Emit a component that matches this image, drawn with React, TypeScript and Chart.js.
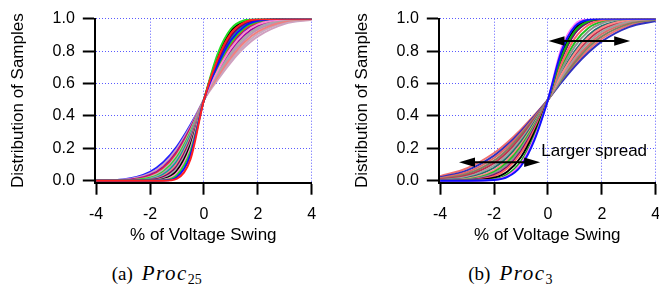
import React, { useEffect, useRef } from "react";
import { Chart, registerables } from "chart.js";

Chart.register(...registerables);

// ---------- data ----------
const xGrid = [-4, -3, -2, -1.5, -1, -0.5, 0, 0.5, 1, 1.5, 2, 3, 4];
const xTicks = [-4, -2, 0, 2, 4];
const yTicks = [0, 0.2, 0.4, 0.6, 0.8, 1.0];
const xTitle = "% of Voltage Swing";
const yTitle = "Distribution of Samples";

// (a) Proc25 : cumulative distributions, one row per sample curve
const proc25Series = [
  [0, 0, 0, 0, 0.013, 0.133, 0.5, 0.748, 0.909, 0.977, 0.996, 1, 1],
  [0, 0, 0, 0.001, 0.023, 0.159, 0.5, 0.711, 0.867, 0.952, 0.987, 1, 1],
  [0, 0, 0, 0.003, 0.035, 0.182, 0.5, 0.779, 0.938, 0.99, 0.999, 1, 1],
  [0, 0, 0, 0.006, 0.048, 0.202, 0.5, 0.675, 0.818, 0.914, 0.965, 0.997, 1],
  [0, 0, 0.001, 0.01, 0.062, 0.221, 0.5, 0.762, 0.923, 0.984, 0.998, 1, 1],
  [0, 0, 0.002, 0.016, 0.077, 0.238, 0.5, 0.655, 0.788, 0.885, 0.945, 0.992, 0.999],
  [0, 0, 0.004, 0.023, 0.091, 0.252, 0.5, 0.734, 0.894, 0.97, 0.994, 1, 1],
  [0, 0, 0.006, 0.03, 0.106, 0.266, 0.5, 0.638, 0.759, 0.855, 0.92, 0.983, 0.998],
  [0, 0, 0.009, 0.039, 0.12, 0.278, 0.5, 0.722, 0.88, 0.961, 0.991, 1, 1],
  [0, 0, 0.013, 0.048, 0.133, 0.289, 0.5, 0.647, 0.774, 0.87, 0.934, 0.988, 0.999],
  [0, 0.001, 0.018, 0.057, 0.146, 0.3, 0.5, 0.7, 0.854, 0.943, 0.982, 0.999, 1],
  [0, 0.001, 0.023, 0.067, 0.159, 0.309, 0.5, 0.629, 0.745, 0.838, 0.906, 0.976, 0.996],
  [0, 0.002, 0.028, 0.077, 0.171, 0.317, 0.5, 0.691, 0.841, 0.933, 0.977, 0.999, 1],
  [0, 0.003, 0.035, 0.086, 0.182, 0.325, 0.5, 0.664, 0.801, 0.898, 0.955, 0.994, 1],
  [0, 0.006, 0.045, 0.102, 0.199, 0.336, 0.5, 0.621, 0.731, 0.823, 0.891, 0.968, 0.993],
  [0.001, 0.008, 0.055, 0.115, 0.212, 0.345, 0.5, 0.683, 0.829, 0.923, 0.972, 0.998, 1],
];

// (b) Proc3
const proc3Series = [
  [0, 0, 0.004, 0.023, 0.091, 0.252, 0.5, 0.798, 0.952, 0.994, 1, 1, 1],
  [0, 0, 0.006, 0.03, 0.106, 0.266, 0.5, 0.818, 0.965, 0.997, 1, 1, 1],
  [0, 0, 0.009, 0.039, 0.12, 0.278, 0.5, 0.762, 0.923, 0.984, 0.998, 1, 1],
  [0, 0.001, 0.018, 0.057, 0.146, 0.3, 0.5, 0.779, 0.938, 0.99, 0.999, 1, 1],
  [0, 0.002, 0.028, 0.077, 0.171, 0.317, 0.5, 0.722, 0.88, 0.961, 0.991, 1, 1],
  [0, 0.003, 0.035, 0.086, 0.182, 0.325, 0.5, 0.748, 0.909, 0.977, 0.996, 1, 1],
  [0, 0.006, 0.045, 0.102, 0.199, 0.336, 0.5, 0.683, 0.829, 0.923, 0.972, 0.998, 1],
  [0.001, 0.008, 0.055, 0.115, 0.212, 0.345, 0.5, 0.7, 0.854, 0.943, 0.982, 0.999, 1],
  [0.001, 0.012, 0.066, 0.13, 0.226, 0.353, 0.5, 0.655, 0.788, 0.885, 0.945, 0.992, 0.999],
  [0.002, 0.017, 0.08, 0.145, 0.241, 0.362, 0.5, 0.664, 0.801, 0.898, 0.955, 0.994, 1],
  [0.004, 0.024, 0.094, 0.162, 0.255, 0.371, 0.5, 0.638, 0.759, 0.855, 0.92, 0.983, 0.998],
  [0.007, 0.032, 0.109, 0.177, 0.269, 0.379, 0.5, 0.647, 0.774, 0.87, 0.934, 0.988, 0.999],
  [0.01, 0.041, 0.124, 0.193, 0.282, 0.386, 0.5, 0.621, 0.731, 0.823, 0.891, 0.968, 0.993],
  [0.015, 0.052, 0.14, 0.209, 0.294, 0.393, 0.5, 0.629, 0.745, 0.838, 0.906, 0.976, 0.996],
  [0.021, 0.064, 0.155, 0.223, 0.306, 0.4, 0.5, 0.607, 0.706, 0.791, 0.86, 0.948, 0.985],
  [0.028, 0.077, 0.171, 0.238, 0.317, 0.406, 0.5, 0.614, 0.718, 0.807, 0.876, 0.959, 0.99],
];

const proc25Colors = [
  "#ff2020", "#1010ff", "#22dd22", "#ff88cc", "#000000", "#a8a8a8", "#7a0060", "#f08080",
  "#00a0a0", "#b890b8", "#22dd22", "#c8a8c0", "#e03030", "#a000a0", "#d0a0c0", "#2020ff",
];
const proc3Colors = [
  "#1010ff", "#ff70ff", "#10b010", "#000000", "#ff6060", "#700070", "#909090", "#20c020",
  "#ff8888", "#207070", "#a0a0a0", "#c03050", "#808060", "#e06868", "#3030c0", "#f07070",
];

// annotation of panel (b), in data units: [xStart, xEnd, y]
const spreadArrows = [
  [0.02, 3.05, 0.862],
  [-3.3, -0.29, 0.114],
];
const spreadLabel = "Larger spread";
const spreadLabelAt = [-0.25, 0.154];

// ---------- layout ----------
const CW = 330;
const CH = 250;
const AXIS_X = 94.8; // y-axis line position inside each canvas
const AXIS_Y = 182.7; // x-axis line position
const TOP = 18.7;
const RIGHT_PAD = 18.2;
const SANS = '"Liberation Sans", Arial, Helvetica, sans-serif';
const GRID_BLUE = "rgb(90,90,255)";

function drawArrow(ctx: CanvasRenderingContext2D, x1: number, x2: number, y: number) {
  const head = 16;
  const half = 4.8;
  ctx.strokeStyle = "#000";
  ctx.fillStyle = "#000";
  ctx.lineWidth = 2;
  ctx.beginPath();
  ctx.moveTo(x1 + head - 2, y);
  ctx.lineTo(x2 - head + 2, y);
  ctx.stroke();
  ctx.beginPath();
  ctx.moveTo(x1, y);
  ctx.lineTo(x1 + head, y - half);
  ctx.lineTo(x1 + head, y + half);
  ctx.closePath();
  ctx.fill();
  ctx.beginPath();
  ctx.moveTo(x2, y);
  ctx.lineTo(x2 - head, y - half);
  ctx.lineTo(x2 - head, y + half);
  ctx.closePath();
  ctx.fill();
}

const spreadPlugin = {
  id: "spreadAnnotation",
  afterDatasetsDraw(chart: any) {
    const { ctx } = chart;
    const xs = chart.scales.x;
    const ys = chart.scales.y;
    ctx.save();
    for (const [a, b, v] of spreadArrows) {
      drawArrow(ctx, xs.getPixelForValue(a), xs.getPixelForValue(b), ys.getPixelForValue(v));
    }
    ctx.font = `17px ${SANS}`;
    ctx.fillStyle = "#000";
    ctx.textAlign = "left";
    ctx.textBaseline = "alphabetic";
    ctx.fillText(spreadLabel, xs.getPixelForValue(spreadLabelAt[0]), ys.getPixelForValue(spreadLabelAt[1]));
    ctx.restore();
  },
};

function buildConfig(series: number[][], colors: string[], annotate: boolean): any {
  const datasets = series.map((ys, i) => ({
    data: ys.map((y, j) => ({ x: xGrid[j], y })),
    borderColor: colors[i],
    borderWidth: 2,
    pointRadius: 0,
    fill: false,
    cubicInterpolationMode: "monotone",
  }));
  const gridColor = (c: any) =>
    c.tick && (c.tick.value === -4 || (c.tick.value === 0 && c.scale.axis === "y")) ? "rgba(0,0,0,0)" : GRID_BLUE;
  return {
    type: "line",
    data: { datasets },
    plugins: annotate ? [spreadPlugin] : [],
    options: {
      responsive: false,
      animation: false,
      events: [],
      devicePixelRatio: 1,
      layout: { padding: { left: 0, top: TOP, right: RIGHT_PAD, bottom: 0 } },
      plugins: { legend: { display: false }, tooltip: { enabled: false } },
      scales: {
        x: {
          type: "linear",
          min: -4.05,
          max: 4,
          afterBuildTicks: (s: any) => {
            s.ticks = xTicks.map((v) => ({ value: v }));
          },
          afterFit: (s: any) => {
            s.height = CH - AXIS_Y;
          },
          ticks: {
            autoSkip: false,
            maxRotation: 0,
            color: "#000",
            padding: 10,
            font: { family: SANS, size: 16 },
            callback: (v: any) => String(v),
          },
          grid: {
            color: gridColor,
            lineWidth: 1,
            drawTicks: true,
            tickLength: 12,
            tickColor: "#000",
            tickWidth: 2,
          },
          border: { display: true, color: "#000", width: 2, dash: [1, 2] },
          title: {
            display: true,
            text: xTitle,
            color: "#000",
            font: { family: SANS, size: 17 },
            padding: { top: 0, bottom: 4 },
          },
        },
        y: {
          type: "linear",
          min: -0.0123,
          max: 1.0,
          afterBuildTicks: (s: any) => {
            s.ticks = yTicks.map((v) => ({ value: v }));
          },
          afterFit: (s: any) => {
            s.width = AXIS_X;
          },
          ticks: {
            color: "#000",
            padding: 8,
            font: { family: SANS, size: 16 },
            callback: (v: any) => Number(v).toFixed(1),
          },
          grid: {
            color: gridColor,
            lineWidth: 1,
            drawTicks: true,
            tickLength: 12,
            tickColor: "#000",
            tickWidth: 2,
          },
          border: { display: true, color: "#000", width: 2, dash: [1, 2] },
          title: {
            display: true,
            text: yTitle,
            color: "#000",
            font: { family: SANS, size: 17 },
            padding: { top: 8, bottom: 0 },
          },
        },
      },
    },
  };
}

function Panel({ series, colors, annotate, left }: { series: number[][]; colors: string[]; annotate: boolean; left: number }) {
  const ref = useRef<HTMLCanvasElement | null>(null);
  useEffect(() => {
    if (!ref.current) return;
    const chart = new Chart(ref.current, buildConfig(series, colors, annotate));
    return () => chart.destroy();
  }, [series, colors, annotate]);
  return (
    <canvas
      ref={ref}
      width={CW}
      height={CH}
      style={{ position: "absolute", left, top: 0, width: CW, height: CH, display: "block" }}
    />
  );
}

const captionStyle: React.CSSProperties = {
  position: "absolute",
  top: 264,
  font: '19px "Liberation Serif", "DejaVu Serif", serif',
  lineHeight: "19px",
  whiteSpace: "nowrap",
  color: "#000",
};

export default function App() {
  return (
    <div
      style={{
        position: "absolute",
        left: 0,
        top: 0,
        width: 659,
        height: 289,
        overflow: "hidden",
        background: "#fff",
      }}
    >
      <Panel series={proc25Series} colors={proc25Colors} annotate={false} left={0} />
      <Panel series={proc3Series} colors={proc3Colors} annotate={true} left={343.5} />
      <div style={{ ...captionStyle, left: 111.7 }}>
        (a)
        <i style={{ marginLeft: 9, fontSize: 21, letterSpacing: "1.5px" }}>Proc</i>
        <span style={{ fontSize: 14, position: "relative", top: 4 }}>25</span>
      </div>
      <div style={{ ...captionStyle, left: 468.3 }}>
        (b)
        <i style={{ marginLeft: 9, fontSize: 21, letterSpacing: "1.5px" }}>Proc</i>
        <span style={{ fontSize: 14, position: "relative", top: 4 }}>3</span>
      </div>
    </div>
  );
}
